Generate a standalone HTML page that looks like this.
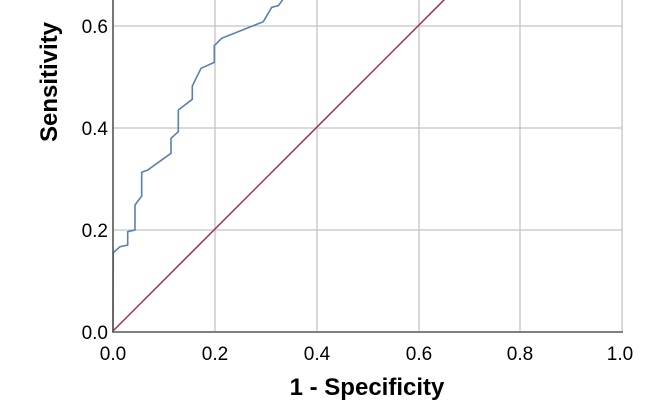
<!DOCTYPE html>
<html><head><style>
html,body{margin:0;padding:0;background:#fff;}
svg{display:block;font-family:"Liberation Sans",Arial,sans-serif;}
</style></head><body>
<svg width="672" height="410" viewBox="0 0 672 410">
<g stroke="#c4c4c4" stroke-width="1.3">
<line x1="215" y1="0" x2="215" y2="331"/>
<line x1="317" y1="0" x2="317" y2="331"/>
<line x1="419" y1="0" x2="419" y2="331"/>
<line x1="520" y1="0" x2="520" y2="331"/>
<line x1="622" y1="0" x2="622" y2="331"/>
<line x1="113" y1="230" x2="622" y2="230"/>
<line x1="113" y1="128" x2="622" y2="128"/>
<line x1="113" y1="26" x2="622" y2="26"/>
</g>
<polyline fill="none" stroke="#5a80b0" stroke-width="1.6" points="113,331 113.3,252.7 120,246.7 127.7,245 127.7,231.7 135,230 135,205 141.7,196 141.7,172.3 147.7,170 171,153.3 171,138.3 178.3,131.7 178.3,110 192.3,99.3 192.3,86 201,68.3 214.3,62.3 214.3,45.7 221.7,38.3 263.3,21.7 271.7,7.3 278.3,5.7 284,-2"/>
<line x1="113" y1="331" x2="445" y2="-1" stroke="#a03050" stroke-width="1.5"/>
<line x1="113" y1="0" x2="113" y2="332" stroke="#555" stroke-width="1.6"/>
<line x1="112" y1="332" x2="623" y2="332" stroke="#555" stroke-width="1.6"/>
<g font-size="19" fill="#000" text-anchor="end">
<text x="108" y="339">0.0</text>
<text x="108" y="237">0.2</text>
<text x="108" y="135">0.4</text>
<text x="108" y="33">0.6</text>
</g>
<g font-size="19" fill="#000" text-anchor="middle">
<text x="113" y="360">0.0</text>
<text x="215" y="360">0.2</text>
<text x="317" y="360">0.4</text>
<text x="419" y="360">0.6</text>
<text x="520" y="360">0.8</text>
<text x="620" y="360">1.0</text>
</g>
<text x="367" y="395" font-size="24" font-weight="bold" text-anchor="middle">1 - Specificity</text>
<text transform="translate(57,82) rotate(-90)" font-size="24" font-weight="bold" text-anchor="middle">Sensitivity</text>
</svg>
</body></html>
